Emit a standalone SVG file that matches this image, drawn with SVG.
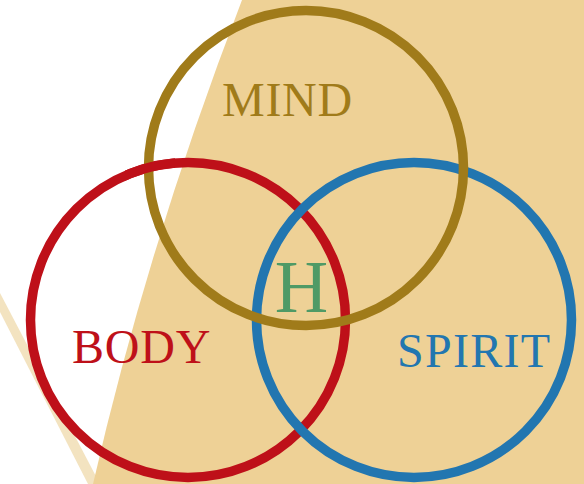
<svg xmlns="http://www.w3.org/2000/svg" width="584" height="484" viewBox="0 0 584 484">
<style>
.ring{fill:none;stroke-width:9.5}
.lbl{font-family:"Liberation Serif","Times New Roman",serif;font-size:48px}
</style>
<defs>
<clipPath id="cx"><rect x="125" y="140" width="50" height="50"/></clipPath>
</defs>
<rect width="584" height="484" fill="#ffffff"/>
<path d="M0,293 L0,312 L88,484 L100,484 Z" fill="#F3E3C0"/>
<path d="M242,0 Q148.5,242 93,484 L584,484 L584,0 Z" fill="#EED196"/>
<g id="body"><circle class="ring" cx="188" cy="320" r="157.5" stroke="#BE1019"/></g>
<g id="spirit"><circle class="ring" cx="414" cy="320" r="157.5" stroke="#2276B0"/></g>
<g id="mind"><circle class="ring" cx="306" cy="168" r="157.5" stroke="#A07B1A"/></g>
<g id="body-over"><circle class="ring" cx="188" cy="320" r="157.5" stroke="#BE1019" clip-path="url(#cx)"/></g>
<g id="labels">
<text class="lbl" x="222" y="116" fill="#A07B1A" letter-spacing="0.7">MIND</text>
<text class="lbl" x="72" y="363" fill="#BE1019" letter-spacing="0.8">BODY</text>
<text class="lbl" x="397" y="367" fill="#2276B0" letter-spacing="1.3">SPIRIT</text>
<text x="301.5" y="312" fill="#4F9A66" font-family="Liberation Serif,serif" font-size="74" text-anchor="middle">H</text>
</g>
</svg>
